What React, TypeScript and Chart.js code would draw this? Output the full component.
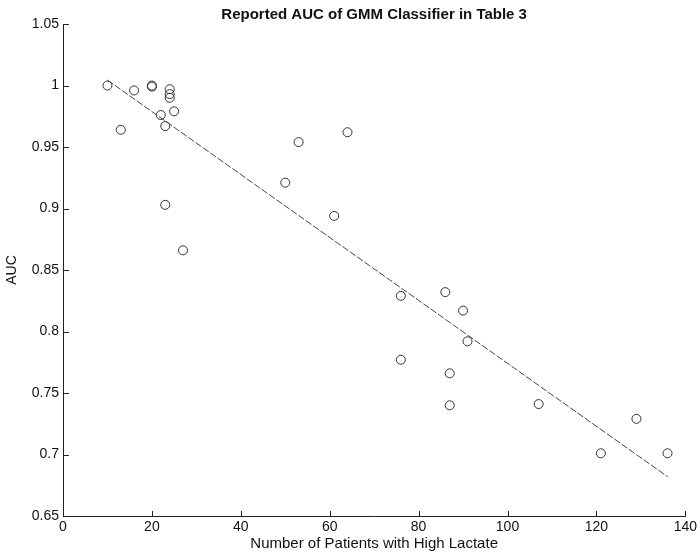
import React, { useEffect, useRef } from "react";
import { Chart, registerables } from "chart.js";

Chart.register(...registerables);

const TITLE = "Reported AUC of GMM Classifier in Table 3";
const X_LABEL = "Number of Patients with High Lactate";
const Y_LABEL = "AUC";

const patientsHighLactate = [10, 13, 16, 20, 20, 24, 24, 24, 25, 22, 23, 23, 27, 50, 53, 61, 64, 76, 76, 86, 90, 91, 87, 87, 107, 121, 129, 136];
const reportedAUC = [1.0, 0.964, 0.996, 1.0, 0.999, 0.997, 0.993, 0.99, 0.979, 0.976, 0.967, 0.903, 0.866, 0.921, 0.954, 0.894, 0.962, 0.829, 0.777, 0.832, 0.817, 0.792, 0.766, 0.74, 0.741, 0.701, 0.729, 0.701];

const fitX = [10, 136];
const fitY = [1.0044, 0.682];

const X_MIN = 0, X_MAX = 140, X_STEP = 20;
const Y_MIN = 0.65, Y_MAX = 1.05, Y_STEP = 0.05;

const FONT = "'Liberation Sans', Arial, Helvetica, sans-serif";

const inwardTicks = {
  id: "inwardTicks",
  afterDraw(chart: any) {
    const { ctx, chartArea, scales } = chart;
    ctx.save();
    ctx.strokeStyle = "#222";
    ctx.lineWidth = 1;
    const len = 5;
    scales.x.ticks.forEach((t: any) => {
      const px = Math.round(scales.x.getPixelForValue(t.value)) + 0.5;
      ctx.beginPath();
      ctx.moveTo(px, chartArea.bottom);
      ctx.lineTo(px, chartArea.bottom - len);
      ctx.stroke();
    });
    scales.y.ticks.forEach((t: any) => {
      const py = Math.round(scales.y.getPixelForValue(t.value)) + 0.5;
      ctx.beginPath();
      ctx.moveTo(chartArea.left, py);
      ctx.lineTo(chartArea.left + len + 1, py);
      ctx.stroke();
    });
    ctx.restore();
  },
};

export default function App() {
  const ref = useRef<HTMLCanvasElement | null>(null);
  useEffect(() => {
    if (!ref.current) return;
    const chart = new Chart(ref.current, {
      type: "scatter",
      data: {
        datasets: [
          {
            label: "AUC",
            data: patientsHighLactate.map((x, i) => ({ x, y: reportedAUC[i] })),
            showLine: false,
            pointRadius: 4.5,
            pointBorderWidth: 1,
            pointBorderColor: "#333",
            pointBackgroundColor: "rgba(0,0,0,0)",
          },
          {
            label: "fit",
            type: "line",
            data: fitX.map((x, i) => ({ x, y: fitY[i] })),
            borderColor: "#444",
            borderWidth: 1,
            borderDash: [7, 2],
            pointRadius: 0,
            fill: false,
          } as any,
        ],
      },
      options: {
        animation: false,
        responsive: false,
        maintainAspectRatio: false,
        layout: { padding: { left: 0, right: 11, top: 0, bottom: 0 }, autoPadding: false } as any,
        plugins: {
          legend: { display: false },
          tooltip: { enabled: false },
          title: {
            display: true,
            text: TITLE,
            fullSize: false,
            color: "#111",
            font: { family: FONT, size: 15, weight: "bold" },
            padding: { top: 6, bottom: 0 },
          },
        },
        scales: {
          x: {
            type: "linear",
            min: X_MIN,
            max: X_MAX,
            grid: { display: false, drawTicks: false },
            border: { display: true, color: "#222", width: 1 },
            ticks: {
              stepSize: X_STEP,
              color: "#111",
              padding: 3,
              maxRotation: 0,
              font: { family: FONT, size: 14 },
            },
            title: {
              display: true,
              text: X_LABEL,
              color: "#111",
              font: { family: FONT, size: 15 },
              padding: { top: 0, bottom: 1 },
            },
            afterFit(scale: any) {
              scale.height = 38;
            },
          },
          y: {
            type: "linear",
            min: Y_MIN,
            max: Y_MAX,
            grid: { display: false, drawTicks: false },
            border: { display: true, color: "#222", width: 1 },
            ticks: {
              stepSize: Y_STEP,
              color: "#111",
              padding: 4,
              font: { family: FONT, size: 14 },
              callback: (v: any) => String(parseFloat(Number(v).toFixed(2))),
            },
            title: {
              display: true,
              text: Y_LABEL,
              color: "#111",
              font: { family: FONT, size: 14 },
              padding: { top: 4, bottom: 0 },
            },
            afterFit(scale: any) {
              scale.width = 63;
            },
          },
        },
      },
      plugins: [inwardTicks],
    });
    return () => chart.destroy();
  }, []);
  return (
    <div style={{ position: "absolute", left: 0, top: 0, width: 700, height: 554, background: "#fff" }}>
      <canvas ref={ref} width={700} height={554} style={{ display: "block", width: 700, height: 554 }} />
    </div>
  );
}
